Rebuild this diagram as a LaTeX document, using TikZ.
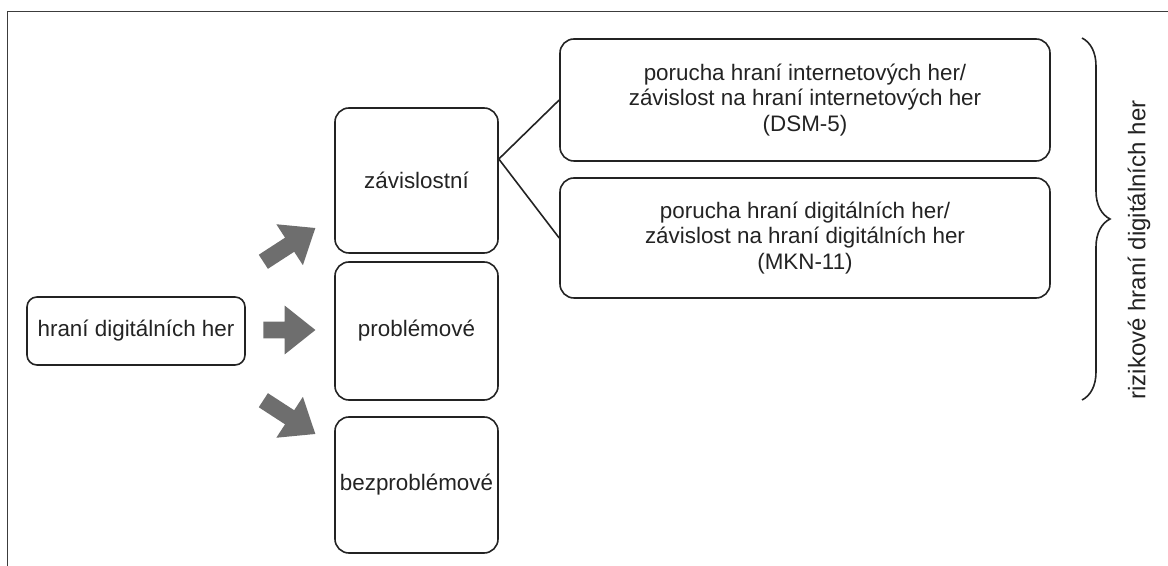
\documentclass[tikz,border=0pt]{standalone}
\usepackage{fontspec}
\setmainfont{Liberation Sans}
\usetikzlibrary{shapes.arrows, decorations.pathreplacing, calc}
\definecolor{framegray}{RGB}{60,60,60}
\definecolor{arrowgray}{RGB}{110,110,110}
\definecolor{inkgray}{RGB}{35,35,35}
\tikzset{
  catbox/.style={draw=inkgray, rounded corners=7pt, line width=0.8pt, align=center, inner sep=0pt, text=inkgray},
  blockarrow/.style={single arrow, fill=arrowgray, draw=none, inner xsep=0pt, inner ysep=4pt, minimum width=24pt,
    single arrow head extend=8pt, single arrow tip angle=77, single arrow head indent=0pt},
  link/.style={draw=inkgray, line width=0.8pt},
  riskbrace/.style={decorate, decoration={brace, amplitude=14pt}, line width=0.8pt, draw=inkgray},
}
\begin{document}
\begin{tikzpicture}[x=0.5pt, y=-0.5pt, font=\fontsize{11.2}{11.3}\selectfont]
\useasboundingbox (0,0) rectangle (1168,566);
% frame
\draw[framegray, line width=0.5pt] (7,566) -- (7,12) -- (1168,12);

% boxes
\node[catbox, minimum width=109pt, minimum height=34pt, rounded corners=5pt] (hrani) at (136,331) {hraní digitálních her};
\node[catbox, minimum width=81.5pt, minimum height=72.5pt] (zav) at (416.5,180.5) {závislostní};
\node[catbox, minimum width=81.5pt, minimum height=69pt] (prob) at (416.5,331) {problémové};
\node[catbox, minimum width=81.5pt, minimum height=68pt] (bezprob) at (416.5,485) {bezproblémové};
\node[catbox, minimum width=245pt, minimum height=61pt] (dsm) at (805,100)
  {porucha hraní internetových her/\\[1.5pt]závislost na hraní internetových her\\[1.5pt](DSM-5)};
\node[catbox, minimum width=245pt, minimum height=60pt] (mkn) at (805,238)
  {porucha hraní digitálních her/\\[1.5pt]závislost na hraní digitálních her\\[1.5pt](MKN-11)};

% block arrows
\node[blockarrow, minimum height=31pt, rotate=33, anchor=tail] (toup) at (263,262) {};
\node[blockarrow, minimum height=26pt, anchor=tail] (tomid) at (263,330) {};
\node[blockarrow, minimum height=31pt, rotate=-33, anchor=tail] (todown) at (263,400) {};

% fork lines
\coordinate (fork) at ($(zav.east)+(0,-21.5)$);
\draw[link] (fork) -- (dsm.west);
\draw[link] (fork) -- (mkn.west);

% brace and label
\coordinate (bracetop) at (1082,38);
\coordinate (bracebot) at (1082,400);
\draw[riskbrace] (bracetop) -- (bracebot);
\node[rotate=90, text=inkgray, font=\fontsize{12}{12}\selectfont] (risk) at (1139,250) {rizikové hraní digitálních her};
\end{tikzpicture}
\end{document}
